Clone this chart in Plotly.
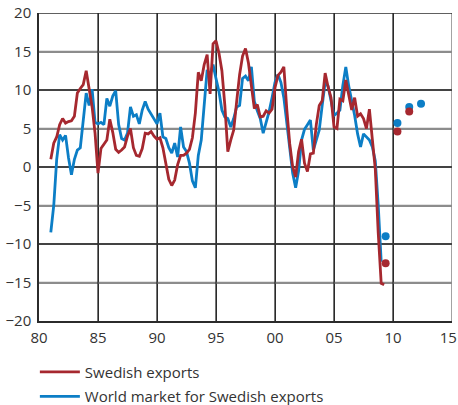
import plotly.graph_objects as go
import pandas as pd

# quarterly data, annual percentage change, 1981Q1 onwards
swedish_exports = [
    1.0, 3.1, 3.9, 5.5, 6.3, 5.7, 5.9, 6.0, 6.6, 9.6, 10.2, 10.7, 12.5, 10.2, 7.8, 4.4,
    -0.8, 2.4, 2.9, 3.5, 6.2, 4.5, 2.3, 1.9, 2.2, 2.6, 4.0, 5.0, 2.5, 1.5, 1.4, 2.4,
    4.4, 4.3, 4.6, 4.0, 3.6, 3.8, 2.5, 0.5, -1.6, -2.4, -1.7, 0.3, 1.5, 1.5, 1.8, 2.3,
    3.8, 7.0, 12.3, 11.2, 13.3, 14.6, 9.5, 16.0, 16.4, 14.8, 12.5, 8.0, 2.0, 3.5, 4.8, 8.5,
    12.0, 14.4, 15.4, 13.5, 10.5, 7.6, 8.1, 6.5, 6.6, 7.3, 7.0, 7.5, 10.3, 11.9, 12.3, 13.0,
    7.5, 3.0, 0.0, -1.3, 2.0, 3.6, 0.5, -0.6, 1.7, 1.8, 5.5, 8.0, 8.6, 12.2, 10.4, 9.0,
    5.2, 5.0, 8.8, 8.6, 11.3, 9.2, 7.4, 9.0, 6.6, 6.9, 6.3, 5.0, 7.5, 3.6, -0.3, -8.6,
    -15.1, -15.3,
]
world_market = [
    -8.5, -5.0, 1.0, 4.2, 3.5, 4.1, 1.2, -1.0, 1.0, 2.2, 2.5, 6.5, 9.6, 8.0, 10.1, 5.8,
    5.6, 5.8, 5.5, 8.9, 7.9, 9.2, 9.9, 5.5, 3.7, 3.5, 4.4, 7.8, 6.6, 6.8, 5.6, 7.4,
    8.5, 7.5, 6.8, 6.3, 5.6, 7.0, 3.9, 3.7, 2.5, 1.8, 3.1, 1.3, 5.2, 2.6, 2.0, 0.5,
    -1.8, -2.7, 1.5, 3.5, 8.5, 12.6, 12.0, 13.3, 11.5, 9.8, 7.4, 6.5, 6.3, 5.2, 6.3, 7.8,
    8.0, 11.5, 11.8, 11.2, 13.0, 8.5, 7.3, 6.3, 4.4, 5.8, 7.2, 9.0, 11.0, 12.0, 11.0, 9.0,
    5.8, 1.8, -0.8, -2.7, -0.5, 3.5, 4.9, 5.5, 6.1, 2.2, 3.5, 4.8, 8.0, 11.0, 10.5, 8.5,
    6.7, 7.0, 7.4, 10.6, 13.0, 10.5, 8.7, 6.7, 4.3, 2.6, 4.3, 3.9, 3.5, 2.6, 0.8, -5.0,
    -12.3,
]

# annual forecasts
se_forecast_years = [2009, 2010, 2011]
se_forecast = [-12.5, 4.6, 7.2]
wm_forecast_years = [2009, 2010, 2011, 2012]
wm_forecast = [-9.0, 5.7, 7.8, 8.2]

x_tickvals = [1980, 1985, 1990, 1995, 2000, 2005, 2010, 2015]
# en space after the last label keeps it inside the page edge
x_ticktext = ["80", "85", "90", "95", "00", "05", "10", "15\u2002"]
y_dark = [-10, 0, 10, 20]
y_light = [-15, -5, 5, 15]

x_min, x_max = 1980, 2015
y_min, y_max = -20, 20

red = "#A6282F"
blue = "#0C7EC6"
dark = "#2b2b2b"
light = "#8c8c8c"
font = "Open Sans"


def quarter_x(n):
    q = pd.period_range("1981Q1", periods=n, freq="Q")
    return [p.year + (p.quarter - 1) / 4 for p in q]


def annual_x(years):
    # annual average sits in the middle of its four quarters
    return [y + 0.375 for y in years]


fig = go.Figure()

# grid: one plain line trace per grid line, underneath the data
for v in y_light:
    fig.add_trace(go.Scatter(x=[x_min, x_max], y=[v, v], mode="lines",
                             line=dict(color=light, width=1.6), hoverinfo="skip", showlegend=False))
for v in x_tickvals[1:-1]:
    fig.add_trace(go.Scatter(x=[v, v], y=[y_min, y_max], mode="lines",
                             line=dict(color=dark, width=1.3), hoverinfo="skip", showlegend=False))
for v in x_tickvals[-1:]:
    fig.add_trace(go.Scatter(x=[v, v], y=[y_min, y_max], mode="lines",
                             line=dict(color=light, width=1.6), hoverinfo="skip", showlegend=False))
for v in y_dark:
    fig.add_trace(go.Scatter(x=[x_min, x_max], y=[v, v], mode="lines",
                             line=dict(color=dark, width=1.3), hoverinfo="skip", showlegend=False))

fig.add_trace(go.Scatter(x=quarter_x(len(world_market)), y=world_market, mode="lines",
                         line=dict(color=blue, width=2.8), name="World market for Swedish exports",
                         legendgroup="wm", legendrank=2))
fig.add_trace(go.Scatter(x=quarter_x(len(swedish_exports)), y=swedish_exports, mode="lines",
                         line=dict(color=red, width=2.8), name="Swedish exports",
                         legendgroup="se", legendrank=1))
fig.add_trace(go.Scatter(x=annual_x(wm_forecast_years), y=wm_forecast, mode="markers",
                         marker=dict(color=blue, size=8), showlegend=False))
fig.add_trace(go.Scatter(x=annual_x(se_forecast_years), y=se_forecast, mode="markers",
                         marker=dict(color=red, size=8), showlegend=False))

fig.update_layout(
    template="none",
    width=458, height=405,
    margin=dict(l=39, r=6, t=13, b=84),
    paper_bgcolor="white", plot_bgcolor="white",
    font=dict(family=font, size=15, color="#333333"),
    showlegend=True,
    legend=dict(x=-0.01, y=0.122, xref="paper", yref="container",
                xanchor="left", yanchor="top", orientation="v",
                font=dict(size=15, color="#333333"), tracegroupgap=2,
                itemwidth=40, bgcolor="rgba(0,0,0,0)"),
    xaxis=dict(range=[x_min, x_max], tickvals=x_tickvals, ticktext=x_ticktext,
               showgrid=True, gridcolor=dark, gridwidth=1.3,
               showline=True, linecolor=dark, linewidth=1.5,
               ticks="outside", ticklen=2, tickcolor="rgba(0,0,0,0)",
               ticklabeloverflow="allow", zeroline=False, automargin=False),
    yaxis=dict(range=[y_min, y_max], dtick=5, tick0=0,
               showgrid=True, gridcolor=light, gridwidth=1.5,
               showline=True, linecolor=dark, linewidth=1.5,
               ticks="outside", ticklen=3, tickcolor="rgba(0,0,0,0)",
               zeroline=False, automargin=False),
)

# drop the page's default body margin so the figure fills the window
fig.write_html("out.html", config={"displayModeBar": False},
               post_script="document.body.style.margin='0';")
